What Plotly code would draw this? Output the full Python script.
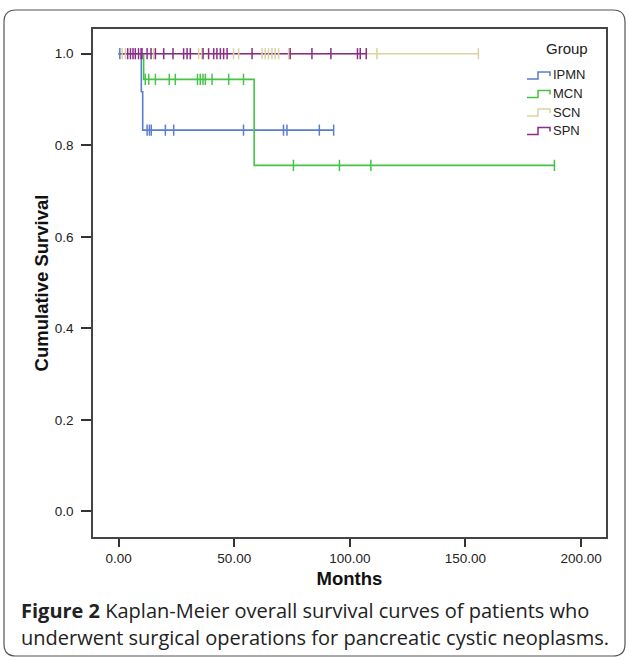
import plotly.graph_objects as go

# ---------------- data ----------------
groups = ["IPMN", "MCN", "SCN", "SPN"]
colors = {"IPMN": "#5b7dd0", "MCN": "#44c444", "SCN": "#d9d3a0", "SPN": "#8a2c8a"}

# step curves (time in months, cumulative survival)
ipmn_t = [0, 9.8, 10.4, 93.0]
ipmn_s = [1.0, 0.917, 0.833, 0.833]
mcn_t = [0, 10.8, 58.6, 188.5]
mcn_s = [1.0, 0.944, 0.756, 0.756]
scn_t = [0, 155.6]
scn_s = [1.0, 1.0]
spn_t = [0, 107.1]
spn_s = [1.0, 1.0]

# censored observations (months)
ipmn_c = [0.5, 12.3, 13.3, 14.1, 20.2, 23.8, 54.0, 71.3, 72.8, 86.8, 93.0]
mcn_c = [11.5, 13.0, 15.9, 21.9, 24.5, 34.1, 35.3, 36.5, 37.5, 40.4, 47.6, 54.0,
         75.6, 95.5, 109.1, 188.5]
scn_c = [1.5, 2.9, 15.1, 34.6, 36.0, 49.7, 51.9, 62.0, 63.4, 64.8, 66.3, 67.7,
         69.2, 73.5, 111.7, 155.6]
spn_c = [3.9, 5.1, 6.2, 7.2, 8.6, 9.7, 10.1, 12.3, 14.0, 15.9, 19.5, 23.5, 28.1,
         29.6, 31.0, 36.5, 38.9, 41.1, 42.5, 44.0, 45.4, 46.9, 57.7, 74.2, 83.6,
         91.8, 103.3, 104.5, 107.1]

curves = {
    "IPMN": (ipmn_t, ipmn_s, ipmn_c),
    "MCN": (mcn_t, mcn_s, mcn_c),
    "SCN": (scn_t, scn_s, scn_c),
    "SPN": (spn_t, spn_s, spn_c),
}

x_ticks = [0, 50, 100, 150, 200]
x_ticktext = ["0.00", "50.00", "100.00", "150.00", "200.00"]
y_ticks = [0.0, 0.2, 0.4, 0.6, 0.8, 1.0]
y_ticktext = ["0.0", "0.2", "0.4", "0.6", "0.8", "1.0"]

caption_bold = "Figure 2"
caption_1 = " Kaplan-Meier overall survival curves of patients who"
caption_2 = "underwent surgical operations for pancreatic cystic neoplasms."


def surv_at(t_list, s_list, t):
    s = s_list[0]
    for ti, si in zip(t_list, s_list):
        if ti <= t:
            s = si
    return s


# ---------------- figure ----------------
W, H = 629, 660
L, R, T, B = 93, 606, 29, 537  # plot area in pixels


def px(x):
    return (x - L) / (R - L)


def py(y):
    return (B - y) / (B - T)


fig = go.Figure()
for g in groups:
    t, s, c = curves[g]
    fig.add_trace(go.Scatter(x=t, y=s, mode="lines", line=dict(color=colors[g], width=1.6, shape="hv"),
                             showlegend=False, hoverinfo="skip"))
for g in groups:
    t, s, c = curves[g]
    fig.add_trace(go.Scatter(x=c, y=[surv_at(t, s, ci) for ci in c], mode="markers",
                             marker=dict(symbol="line-ns", size=8,
                                         line=dict(color=colors[g], width=1.5)),
                             showlegend=False, hoverinfo="skip"))

axis_font = dict(family="Liberation Sans, Arial", size=13.5, color="#222")
title_font = dict(family="Liberation Sans, Arial", size=18.5, color="#111")
fig.update_layout(
    width=W, height=H,
    margin=dict(l=L, r=W - R, t=T, b=H - B),
    paper_bgcolor="white", plot_bgcolor="white",
    xaxis=dict(range=[-11.1, 210.8], tickvals=x_ticks, ticktext=x_ticktext,
               ticks="outside", ticklen=8, tickwidth=1.5, tickcolor="#333",
               showline=True, linecolor="#444", linewidth=1.5, mirror=True,
               showgrid=False, zeroline=False, tickfont=axis_font,
               title=dict(text="<b>Months</b>", font=title_font, standoff=7)),
    yaxis=dict(range=[-0.056, 1.054], tickvals=y_ticks, ticktext=y_ticktext,
               ticks="outside", ticklen=10, tickwidth=1.5, tickcolor="#333",
               showline=True, linecolor="#444", linewidth=1.5, mirror=True,
               showgrid=False, zeroline=False, tickfont=axis_font, ticklabelstandoff=5,
               title=dict(text="<b>Cumulative Survival</b>", font=title_font, standoff=1)),
)

# custom legend
fig.add_annotation(x=px(590), y=py(48), xref="paper", yref="paper", text="Group",
                   showarrow=False, xanchor="right", yanchor="middle",
                   font=dict(family="Liberation Sans, Arial", size=15, color="#222"))
for i, g in enumerate(groups):
    yc = 75 + i * 18.5
    path = "M {} {} L {} {} L {} {} L {} {} L {} {}".format(
        px(527), py(yc + 4), px(538), py(yc + 4), px(538), py(yc - 3),
        px(550), py(yc - 3), px(550), py(yc + 1))
    fig.add_shape(type="path", path=path, xref="paper", yref="paper",
                  line=dict(color=colors[g], width=1.5))
    fig.add_annotation(x=px(551), y=py(yc), xref="paper", yref="paper", text=g,
                       showarrow=False, xanchor="left", yanchor="middle",
                       font=dict(family="Liberation Sans, Arial", size=13, color="#222"))

# caption
cap_font = dict(family="Open Sans, Noto Sans", size=20, color="#222")
fig.add_annotation(x=px(19), y=py(610), xref="paper", yref="paper",
                   text="<b>" + caption_bold + "</b>" + caption_1,
                   showarrow=False, xanchor="left", yanchor="middle", font=cap_font)
fig.add_annotation(x=px(19), y=py(637), xref="paper", yref="paper",
                   text=caption_2, showarrow=False, xanchor="left", yanchor="middle", font=cap_font)

# outer rounded frame
x0, x1, y0, y1, r = 4, 625, 10, 656, 12
frame = ("M {a} {b} L {c} {b} Q {d} {b} {d} {e} L {d} {f} Q {d} {g} {c} {g} "
         "L {a} {g} Q {h} {g} {h} {f} L {h} {e} Q {h} {b} {a} {b} Z").format(
    a=px(x0 + r), b=py(y0), c=px(x1 - r), d=px(x1), e=py(y0 + r), f=py(y1 - r),
    g=py(y1), h=px(x0))
fig.add_shape(type="path", path=frame, xref="paper", yref="paper",
              line=dict(color="#555", width=1.2), layer="below")

fig.write_html("out.html", config={"displayModeBar": False},
               post_script="document.body.style.margin='0';")
